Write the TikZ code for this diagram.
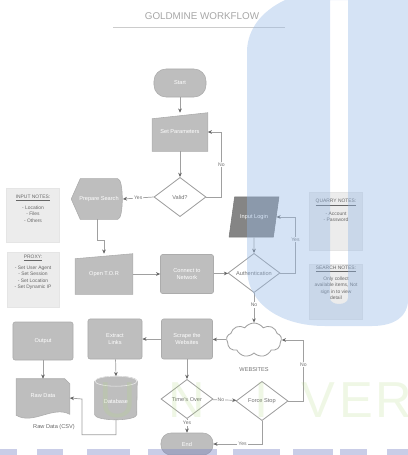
\documentclass[tikz,border=0pt]{standalone}
\usepackage{fontspec}
\setmainfont{Liberation Sans}
\usepackage{tikz}
\usetikzlibrary{positioning,arrows.meta,shapes.geometric,shapes.symbols,calc}

\definecolor{boxgray}{RGB}{190,190,190}
\definecolor{boxedge}{RGB}{172,172,172}
\definecolor{linegray}{RGB}{160,160,160}
\definecolor{notegray}{RGB}{236,236,236}
\definecolor{wmblue}{RGB}{150,185,230}
\definecolor{wmband}{RGB}{120,130,195}
\definecolor{wmgreen}{RGB}{175,215,125}

\tikzset{
  txt/.style={font=\fontsize{4}{4.8}\selectfont, text=white, align=center},
  greybox/.style={txt, rectangle, rounded corners=1.5pt, fill=boxgray, draw=boxedge, line width=0.4pt,
    minimum width=1.325cm, minimum height=0.975cm, inner sep=1pt},
  ghost/.style={txt, rectangle, inner sep=1pt},
  terminal/.style={greybox, rounded corners=0.3cm, minimum width=1.3cm, minimum height=0.7cm},
  decision/.style={diamond, aspect=1.3, draw=linegray, line width=0.6pt, fill=white, text=black!55,
    font=\fontsize{4}{4.8}\selectfont, align=center, minimum width=1.3cm, minimum height=0.98cm, inner sep=0pt},
  notebox/.style={rectangle, fill=notegray, draw=black!10, line width=0.3pt, minimum width=1.325cm},
  notetext/.style={anchor=north, text=black!60, font=\fontsize{3.5}{4.6}\selectfont, align=center, inner sep=0pt},
  flow/.style={draw=linegray, line width=0.5pt, -{Stealth[length=3pt, width=2.6pt, color=black!60]}},
  tag/.style={fill=white, inner sep=0.8pt, text=black!55, font=\fontsize{3.6}{4}\selectfont},
  wmletter/.style={text=wmgreen, text opacity=0.2, font=\fontsize{36}{36}\selectfont},
}

\begin{document}
\begin{tikzpicture}[x=0.025cm, y=-0.025cm]
\useasboundingbox (0,0) rectangle (408,455);

% Title
\node[text=black!35, font=\fontsize{7}{8}\selectfont] (title) at (202,16) {GOLDMINE WORKFLOW};
\draw[black!20, line width=0.6pt] (113,27) -- (285,27);

% Start / parameters / check
\node[terminal] (start) at (180,83) {Start};
\node[ghost, minimum width=1.375cm, minimum height=0.95cm] (setp) at (180,132) {Set Parameters};
\fill[boxgray, draw=boxedge, line width=0.4pt] (setp.south west) -- (setp.south east) -- (setp.north east)
    -- ($(setp.north west)+(0,6)$) -- cycle;
\node[ghost] (setptext) at (setp) {Set Parameters};
\node[decision] (valid) at (180,197) {Valid?};

% Preparation
\node[ghost, minimum width=1.275cm, minimum height=1cm] (prep) at (97,199) {};
\fill[boxgray, draw=boxedge, line width=0.4pt] (prep.west) -- ($(prep.north west)+(9,0)$) -- ($(prep.north east)+(-5,0)$)
    .. controls ($(prep.north east)+(1,0)$) and ($(prep.south east)+(1,0)$) .. ($(prep.south east)+(-5,0)$)
    -- ($(prep.south west)+(9,0)$) -- cycle;
\node[ghost] (preptext) at ($(prep)+(2,0)$) {Prepare Search};

% Notes on the left
\node[notebox, minimum height=1.35cm] (innotes) at (33,215) {};
\node[notetext] (innotestext) at (33,195) {\underline{INPUT NOTES:}\\[3pt] - Location\\ - Files\\ - Others};
\node[notebox, minimum width=1.3cm, minimum height=1.375cm] (proxy) at (33,280) {};
\node[notetext] (proxytext) at (33,255) {\underline{PROXY:}\\[3pt] - Set User Agent\\ - Set Session\\ - Set Location\\ - Set Dynamic IP};

% TOR and network
\node[ghost, minimum width=1.425cm, minimum height=1cm] (tor) at (104,274) {};
\fill[boxgray, draw=boxedge, line width=0.4pt] (tor.south west) -- (tor.south east) -- (tor.north east)
    -- ($(tor.north west)+(0,5)$) -- cycle;
\node[ghost] (tortext) at (tor) {Open T.O.R};
\node[greybox] (conn) at (187,274) {Connect to\\Network};

% Login
\node[trapezium, trapezium left angle=70, trapezium right angle=110, trapezium stretches=true,
    fill=black!48, draw=black!52, line width=0.4pt, txt, minimum width=1.25cm, minimum height=1cm] (login) at (254,217) {Input Login};
\node[decision] (auth) at (254,273) {Authentication};

% Notes on the right
\node[notebox, minimum height=1.45cm] (quarry) at (336,221) {};
\node[notetext] (quarrytext) at (336,199) {\underline{QUARRY NOTES:}\\[3pt] - Account\\ - Password};
\node[notebox, minimum height=1.375cm] (search) at (336,292) {};
\node[notetext] (searchtext) at (336,266) {\underline{SEARCH NOTES:}\\[3pt] Only collect\\ available items, Not\\ sign in to view\\ detail};

% Websites
\node[cloud, cloud puffs=9, cloud puff arc=110, aspect=1.7, draw=linegray, line width=0.6pt, fill=white,
    minimum width=1.375cm, minimum height=0.85cm] (web) at (254,340) {};
\node[text=black!55, font=\fontsize{4}{4.8}\selectfont] (webtext) at (254,370) {WEBSITES};
\node[greybox, minimum width=1.275cm, minimum height=1cm] (scrape) at (187,339) {Scrape the\\Websites};
\node[greybox, minimum width=1.35cm, minimum height=1cm] (extract) at (115,339) {Extract\\Links};
\node[greybox, minimum width=1.5cm, minimum height=0.95cm] (output) at (43,341) {Output};

% Database
\node[ghost, minimum width=1.05cm, minimum height=1.075cm] (db) at (116,398) {};
\fill[boxgray, draw=boxedge, line width=0.4pt] ($(db.north west)+(0,5)$) -- ($(db.south west)+(0,-5)$)
    arc[start angle=180, end angle=360, x radius=0.525cm, y radius=0.125cm]
    -- ($(db.north east)+(0,5)$)
    arc[start angle=0, end angle=180, x radius=0.525cm, y radius=0.125cm] -- cycle;
\draw[white!70!boxgray, line width=0.4pt] ($(db.north)+(0,5)$) ellipse[x radius=0.525cm, y radius=0.125cm];
\node[ghost] (dbtext) at ($(db)+(0,3)$) {Database};

% Raw data document
\node[ghost, minimum width=1.325cm, minimum height=0.95cm] (raw) at (43,398) {};
\fill[boxgray, draw=boxedge, line width=0.4pt] (raw.north west) -- ($(raw.north east)+(-5,0)$) -- ($(raw.north east)+(0,5)$)
    -- ($(raw.south east)+(0,-3)$)
    .. controls ($(raw.south)+(10,-12)$) and ($(raw.south)+(-10,8)$) .. ($(raw.south west)+(0,-2)$) -- cycle;
\node[ghost] (rawtext) at ($(raw)+(0,-2)$) {Raw Data};
\node[text=black!60, font=\fontsize{4}{4.8}\selectfont] (rawlabel) at (54,427) {Raw Data (CSV)};

% Decisions at the bottom
\node[decision] (times) at (187,399) {Time's Over};
\node[decision] (force) at (262,401) {Force Stop};
\node[terminal, minimum height=0.55cm, rounded corners=0.25cm] (end) at (187,444) {End};
\coordinate (bend) at (82,399);

% Connectors
\draw[flow] (start) -- (setp);
\draw[flow] (setp) -- (valid);
\draw[flow] (valid.east) -- ++(15,0) |- (setp.east) node[tag, pos=0.25] {No};
\draw[flow] (valid.west) -- (prep.east) node[tag, midway] {Yes};
\draw[flow] (prep.south) -- ++(0,21) -| (tor.north);
\draw[flow] (tor) -- (conn);
\draw[flow] (conn) -- (auth);
\draw[flow] (login) -- (auth);
\draw[flow] (auth.east) -- ++(15,0) |- (login.east) node[tag, pos=0.3] {Yes};
\draw[flow] (auth.south) -- (web.north) node[tag, pos=0.4] {No};
\draw[flow] (web) -- (scrape);
\draw[flow] (scrape) -- (extract);
\draw[flow] (extract) -- (db.north);
\draw[flow] (db.south) -- ++(0,15) -| (bend) -- (raw.east);
\draw[flow] (output) -- (raw.north);
\draw[flow] (scrape) -- (times);
\draw[flow] (times) -- (force) node[tag, pos=0.35] {No};
\draw[flow] (force.east) -- ++(15,0) |- (web.east) node[tag, pos=0.3] {No};
\draw[flow] (times) -- (end) node[tag, pos=0.3] {Yes};
\draw[flow] (force.south) |- (end.east) node[tag, pos=0.7] {Yes};

% Watermark
\fill[wmblue, fill opacity=0.4, even odd rule]
    (285,0) .. controls (260,12) and (248,30) .. (247,50) -- (247,268)
    .. controls (247,305) and (282,326) .. (325,326) -- (372,326)
    .. controls (395,326) and (408,316) .. (408,300) -- (408,0) -- cycle
    (330,0) -- (330,298) .. controls (330,306) and (348,306) .. (348,298) -- (348,0) -- cycle;
\foreach \a/\b in {0/17, 37/63, 87/130, 148/217, 233/280, 293/333, 340/367, 387/408}
    \fill[wmband, fill opacity=0.4] (\a,449) rectangle (\b,455);
\node[wmletter] (wmu) at (118,400) {U};
\node[wmletter] (wmn) at (187,400) {N};
\node[wmletter] (wmi) at (262,400) {I};
\node[wmletter] (wmv) at (318,400) {V};
\node[wmletter] (wme) at (356,400) {E};
\node[wmletter] (wmr) at (394,400) {R};
\end{tikzpicture}
\end{document}
